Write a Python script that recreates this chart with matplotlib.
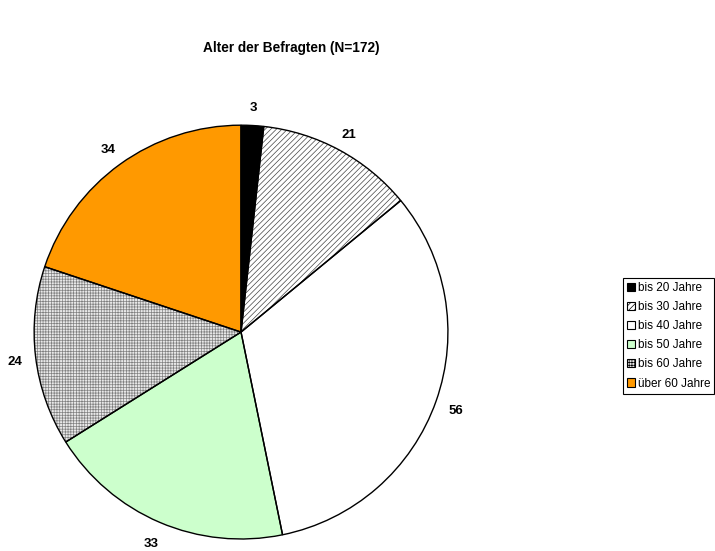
import matplotlib
matplotlib.use("Agg")
import matplotlib.pyplot as plt
from matplotlib.transforms import offset_copy

plt.rcParams['font.family'] = ['Liberation Sans', 'DejaVu Sans']
plt.rcParams['hatch.linewidth'] = 0.5

categories = ["bis 20 Jahre", "bis 30 Jahre", "bis 40 Jahre",
              "bis 50 Jahre", "bis 60 Jahre", "über 60 Jahre"]
counts = [3, 21, 56, 33, 24, 34]
title = "Alter der Befragten (N=172)"

colors = ["black", "white", "white", "#ccffcc", "#e8e8e8", "#ff9900"]
hatches = [None, "//////", None, None, "++++++", None]
hatch_colors = ["black", "#444444", "black", "black", "#808080", "black"]

fig = plt.figure(figsize=(7.15, 5.51), dpi=100)
ax = fig.add_axes([0.0476, 0.0218, 0.579, 0.751])

# fill + hatch layer
wedges, texts = ax.pie(counts, colors=colors, startangle=90, counterclock=False,
                       labels=[str(c) for c in counts], labeldistance=1.1,
                       wedgeprops=dict(linewidth=0))
for w, h, hc in zip(wedges, hatches, hatch_colors):
    if h:
        w.set_hatch(h)
        w.set_edgecolor(hc)
# labels sit a little lower in the original (Excel style)
shifted = offset_copy(ax.transData, fig=fig, x=0, y=-3, units="dots")
for t in texts:
    t.set_fontsize(9.5)
    t.set_fontweight("bold")
    t.set_ha("center")
    t.set_transform(shifted)

# outline layer
ax.pie(counts, colors=["none"] * len(counts), startangle=90, counterclock=False,
       wedgeprops=dict(linewidth=1.0, edgecolor="black"))
ax.set_aspect("equal")
ax.set_xlim(-1, 1)
ax.set_ylim(-1, 1)

fig.text(0.407, 0.913, title, ha="center", va="center",
         fontsize=9.8, fontweight="bold")

leg = fig.legend(wedges, categories, loc="upper left",
                 bbox_to_anchor=(0.871, 0.4955), fontsize=8.5,
                 handlelength=0.7, handleheight=0.7, handletextpad=0.2,
                 labelspacing=0.6, borderpad=0.35, fancybox=False,
                 framealpha=1, borderaxespad=0)
leg.get_frame().set_edgecolor("black")
leg.get_frame().set_linewidth(0.8)
for h in leg.legend_handles:
    h.set_linewidth(0.8)
    h.set_edgecolor("black")

fig.savefig("out.png", dpi=100)
